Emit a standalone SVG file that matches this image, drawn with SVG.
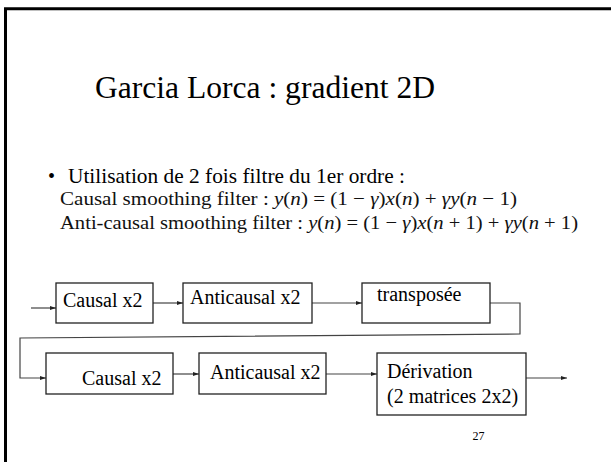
<svg xmlns="http://www.w3.org/2000/svg" width="611" height="462" viewBox="0 0 611 462">
  <style>
    .serif { font-family: "Liberation Serif", "Times New Roman", serif; fill: #000; }
    .box { fill: #fff; stroke: #222; stroke-width: 1.3; }
    .lbl { font-size: 20px; }
    .eq { font-size: 19px; fill: #111; }
    .it { font-style: italic; }
    .wire { fill: none; stroke: #444; stroke-width: 1.2; }
  </style>
  <defs>
    <marker id="arrow" viewBox="0 0 6 4" refX="6" refY="2" markerWidth="6" markerHeight="4" markerUnits="userSpaceOnUse" orient="auto">
      <path d="M0,0 L6,2 L0,4 Z" fill="#222"/>
    </marker>
  </defs>

  <rect width="611" height="462" fill="#fff"/>
  <!-- slide frame (left and top edges) -->
  <path d="M5.5,462 V8.75 H611" fill="none" stroke="#000" stroke-width="3"/>

  <!-- heading and bullet -->
  <text class="serif" x="95" y="98" font-size="31" textLength="340" lengthAdjust="spacingAndGlyphs">Garcia Lorca : gradient 2D</text>
  <text class="serif" x="48" y="183" font-size="20">•</text>
  <text class="serif" x="68" y="183" font-size="22" textLength="337" lengthAdjust="spacingAndGlyphs">Utilisation de 2 fois filtre du 1er ordre :</text>

  <!-- filter equations -->
  <text class="serif eq" x="60" y="205" textLength="457" lengthAdjust="spacingAndGlyphs">Causal smoothing filter  :  <tspan class="it">y</tspan>(<tspan class="it">n</tspan>) = (1 − <tspan class="it">γ</tspan>)<tspan class="it">x</tspan>(<tspan class="it">n</tspan>) + <tspan class="it">γy</tspan>(<tspan class="it">n</tspan> − 1)</text>
  <text class="serif eq" x="60" y="229" textLength="518" lengthAdjust="spacingAndGlyphs">Anti-causal smoothing filter :  <tspan class="it">y</tspan>(<tspan class="it">n</tspan>) = (1 − <tspan class="it">γ</tspan>)<tspan class="it">x</tspan>(<tspan class="it">n</tspan> + 1) + <tspan class="it">γy</tspan>(<tspan class="it">n</tspan> + 1)</text>

  <!-- connectors -->
  <g id="connectors" class="wire">
    <path d="M31,308 H56" marker-end="url(#arrow)"/>
    <path d="M153,303 H183" marker-end="url(#arrow)"/>
    <path d="M312,303 H362" marker-end="url(#arrow)"/>
    <path d="M490,303 H520 V334 L20,338 V378 H46" marker-end="url(#arrow)"/>
    <path d="M173,374 H199" marker-end="url(#arrow)"/>
    <path d="M326,374 H377" marker-end="url(#arrow)"/>
    <path d="M526,378 H567" marker-end="url(#arrow)"/>
  </g>

  <!-- first pass -->
  <g id="causal1">
    <rect class="box" x="56" y="283" width="97" height="40"/>
    <text class="serif lbl" x="63" y="307">Causal x2</text>
  </g>
  <g id="anticausal1">
    <rect class="box" x="183" y="283" width="129" height="40"/>
    <text class="serif lbl" x="190" y="304">Anticausal x2</text>
  </g>
  <g id="transpose">
    <rect class="box" x="362" y="283" width="128" height="40"/>
    <text class="serif lbl" x="377" y="301">transposée</text>
  </g>

  <!-- second pass -->
  <g id="causal2">
    <rect class="box" x="46" y="353" width="127" height="41"/>
    <text class="serif lbl" x="82" y="384.5">Causal x2</text>
  </g>
  <g id="anticausal2">
    <rect class="box" x="199" y="353" width="127" height="41"/>
    <text class="serif lbl" x="210" y="379">Anticausal x2</text>
  </g>
  <g id="derivation">
    <rect class="box" x="377" y="353" width="149" height="62"/>
    <text class="serif lbl" x="387" y="378">Dérivation</text>
    <text class="serif lbl" x="387" y="403">(2 matrices 2x2)</text>
  </g>

  <!-- page number -->
  <text class="serif" x="472.5" y="440" font-size="12">27</text>
</svg>
